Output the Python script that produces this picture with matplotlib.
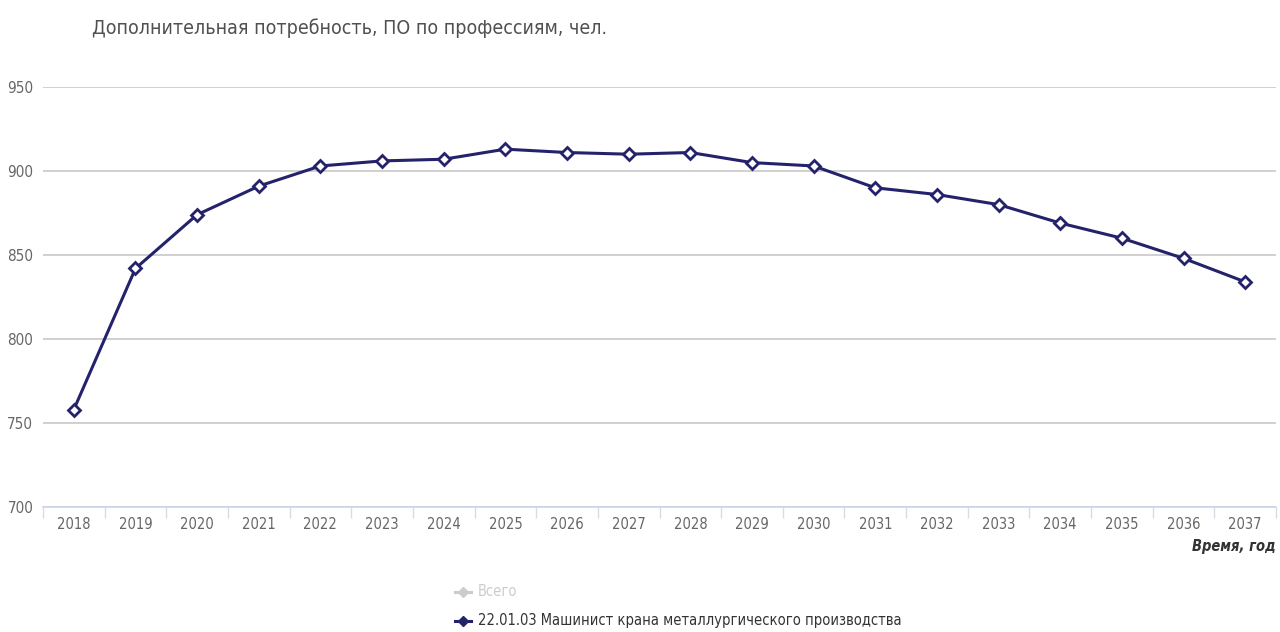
import matplotlib
matplotlib.use("Agg")
import matplotlib.pyplot as plt
from matplotlib.lines import Line2D

years = [str(y) for y in range(2018, 2038)]
values = [758, 842, 874, 891, 903, 906, 907, 913, 911, 910,
          911, 905, 903, 890, 886, 880, 869, 860, 848, 834]
yticks = [700, 750, 800, 850, 900, 950]
title = "Дополнительная потребность, ПО по профессиям, чел."
xlabel = "Время, год"
series_total = "Всего"
series_name = "22.01.03 Машинист крана металлургического производства"

plt.rcParams['font.family'] = ['DejaVu Sans']
FONT = dict(family='DejaVu Sans', stretch='condensed')

fig = plt.figure(figsize=(12.8, 6.32), dpi=100)
ax = fig.add_axes([43/1280, 1-507/632, (1276-43)/1280, (507-87)/632])

line_color = '#24226a'
x = list(range(len(years)))
ax.plot(x, values, color=line_color, lw=2.2, marker='D', ms=6,
        mfc='white', mec=line_color, mew=2, zorder=3, clip_on=False)

ax.set_xlim(-0.5, len(years) - 0.5)
ax.set_ylim(700, 950)
ax.set_yticks(yticks)
ax.set_yticklabels([str(v) for v in yticks], fontsize=11, color='#666666', **FONT)
ax.yaxis.grid(True, color='#c8c8c8', lw=1.2)
ax.set_axisbelow(True)
ax.tick_params(axis='y', length=0, pad=7)

ax.set_xticks(x)
ax.set_xticklabels(years, fontsize=10.5, color='#666666', **FONT)
ax.tick_params(axis='x', length=0, pad=7)
ax.set_xticks([i + 0.5 for i in range(-1, len(years))], minor=True)
ax.tick_params(axis='x', which='minor', length=8, color='#d5dde8', width=1)

for s in ['top', 'right', 'left']:
    ax.spines[s].set_visible(False)
ax.spines['bottom'].set_color('#ccd6eb')
ax.spines['bottom'].set_linewidth(1.2)

fig.text(92/1280, 1-28/632, title, fontsize=14, color='#505050', va='center', ha='left', **FONT)
fig.text(1276/1280, 1-547/632, xlabel, fontsize=10.5, color='#333333', va='center', ha='right',
         weight='bold', style='italic', **FONT)

# legend
lx, tx = 463/1280, 478/1280
for ypix, label, col in [(592, series_total, '#cccccc'), (621, series_name, line_color)]:
    yy = 1 - ypix/632
    fig.add_artist(Line2D([455/1280, 471/1280], [yy, yy], color=col, lw=2.2,
                          transform=fig.transFigure))
    fig.add_artist(Line2D([lx], [yy], color=col, marker='D', ms=5, mfc=col, mec=col,
                          transform=fig.transFigure))
    fig.text(tx, yy, label, fontsize=10.5, color=('#cccccc' if col == '#cccccc' else '#333333'),
             va='center', ha='left', **FONT)

fig.savefig('out.png', dpi=100, facecolor='white')
